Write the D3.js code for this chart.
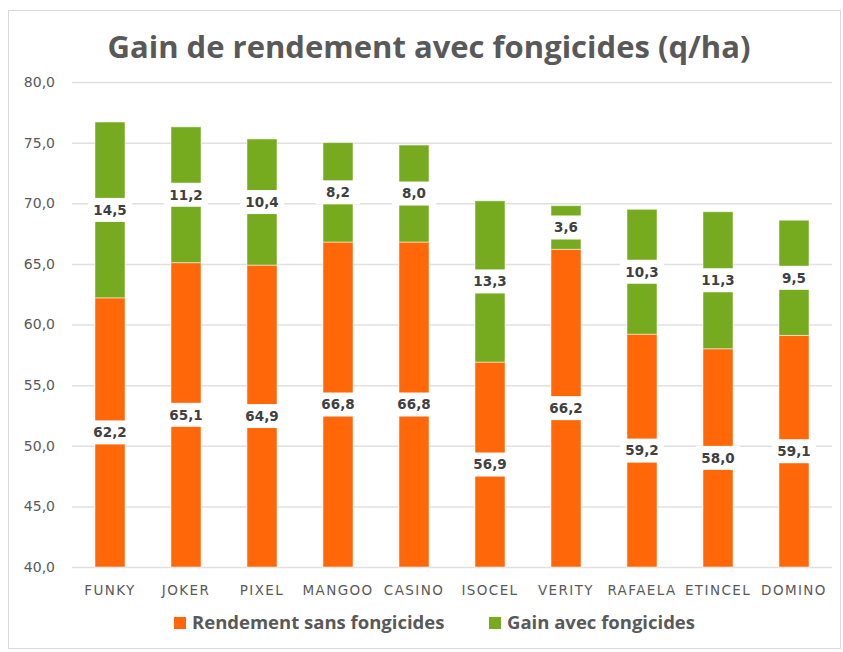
<!DOCTYPE html>
<html>
<head>
<meta charset="utf-8">
<script src="https://cdn.jsdelivr.net/npm/d3@7"></script>
<style>
    body { margin: 0; background: #fff; }
    svg { display: block; }
</style>
</head>
<body>
<svg width="843" height="652"></svg>
<script>
const varieties = ["FUNKY", "JOKER", "PIXEL", "MANGOO", "CASINO", "ISOCEL", "VERITY", "RAFAELA", "ETINCEL", "DOMINO"];
const sansFongicides = [62.2, 65.1, 64.9, 66.8, 66.8, 56.9, 66.2, 59.2, 58.0, 59.1];
const gainFongicides = [14.5, 11.2, 10.4, 8.2, 8.0, 13.3, 3.6, 10.3, 11.3, 9.5];
const yTicks = [40, 45, 50, 55, 60, 65, 70, 75, 80];
const seriesNames = ["Rendement sans fongicides", "Gain avec fongicides"];

const colors = ["#ff6709", "#77ab1f"];
const axisMin = 40;
const fmt = v => d3.format(".1f")(v).replace(".", ",");

let svg = d3.select("svg");

let x = d3.scaleBand(varieties, [72, 832]).paddingInner(0.605).paddingOuter(0.3025);
let y = d3.scaleLinear([40, 80], [567, 82]);

// frame
svg.append("rect")
    .attr("x", 8.5).attr("y", 10.5)
    .attr("width", 832).attr("height", 638)
    .attr("fill", "#fff")
    .attr("stroke", "#d9d9d9");

// title
svg.append("text")
    .attr("x", 429).attr("y", 58)
    .attr("text-anchor", "middle")
    .style("font-family", "'Open Sans'")
    .style("font-weight", 700)
    .style("font-size", "31px")
    .style("fill", "#595959")
    .text("Gain de rendement avec fongicides (q/ha)");

// grid + y labels
let yAxis = d3.axisLeft(y).tickValues(yTicks).tickFormat(fmt).tickSize(-760).tickPadding(17);
svg.append("g")
    .attr("class", "y-axis")
    .attr("transform", "translate(72,0)")
    .call(yAxis)
    .call(g => g.select(".domain").remove())
    .call(g => g.selectAll("line").attr("stroke", "#e0e0e0").attr("stroke-width", 1.5))
    .call(g => g.selectAll("text")
        .style("font-family", "'DejaVu Sans'")
        .style("font-size", "14px")
        .style("fill", "#595959"));

// x labels
let xAxis = d3.axisBottom(x).tickSize(0).tickPadding(18);
svg.append("g")
    .attr("class", "x-axis")
    .attr("transform", "translate(0,567)")
    .call(xAxis)
    .call(g => g.select(".domain").remove())
    .call(g => g.selectAll("text")
        .style("font-family", "'DejaVu Sans'")
        .style("font-size", "13.5px")
        .style("letter-spacing", "1.4px")
        .style("fill", "#595959"));

// stacked segments
let segments = varieties.flatMap((v, i) => [
    { name: v, s: 0, y0: axisMin, y1: sansFongicides[i], value: sansFongicides[i] },
    { name: v, s: 1, y0: sansFongicides[i], y1: sansFongicides[i] + gainFongicides[i], value: gainFongicides[i] }
]);

svg.append("g").selectAll("rect")
    .data(segments)
    .join("rect")
    .attr("x", d => x(d.name))
    .attr("width", x.bandwidth())
    .attr("y", d => y(d.y1))
    .attr("height", d => y(d.y0) - y(d.y1))
    .attr("fill", d => colors[d.s])
    .attr("stroke", "rgba(255,255,255,0.5)")
    .attr("stroke-width", 1);

// data labels with white boxes
let labels = svg.append("g").selectAll("g")
    .data(segments)
    .join("g")
    .attr("transform", d => `translate(${x(d.name) + x.bandwidth() / 2},${y((d.y0 + d.y1) / 2)})`);

labels.append("rect")
    .attr("x", -22).attr("y", -12)
    .attr("width", 44).attr("height", 24)
    .attr("fill", "#fff");

labels.append("text")
    .attr("text-anchor", "middle")
    .attr("dy", "0.36em")
    .style("font-family", "'DejaVu Sans'")
    .style("font-weight", "bold")
    .style("font-size", "13.5px")
    .style("fill", "#404040")
    .text(d => fmt(d.value));

// legend
let legendX = [174, 489];
let legend = svg.append("g").selectAll("g")
    .data(seriesNames)
    .join("g")
    .attr("transform", (d, i) => `translate(${legendX[i]},617)`);

legend.append("rect")
    .attr("width", 12).attr("height", 12)
    .attr("fill", (d, i) => colors[i]);

legend.append("text")
    .attr("x", 18).attr("y", 12)
    .style("font-family", "'Open Sans'")
    .style("font-weight", 700)
    .style("font-size", "18.5px")
    .style("fill", "#595959")
    .text(d => d);
</script>
</body>
</html>
